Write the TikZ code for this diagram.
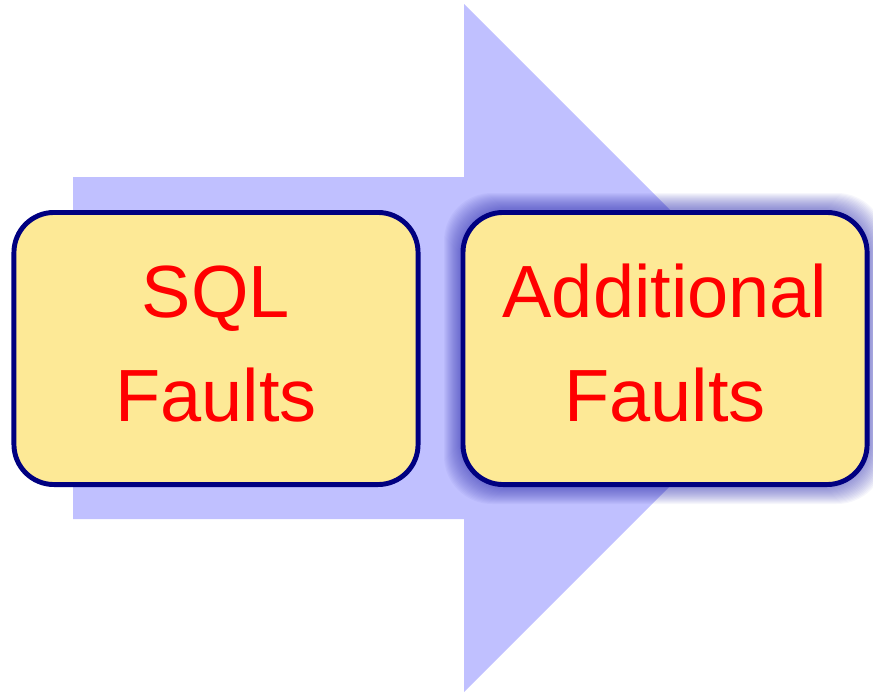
\documentclass[tikz,border=0pt]{standalone}
\usepackage{fontspec}
\setmainfont{Liberation Sans}
\usepackage{tikz}
\usetikzlibrary{positioning}
\definecolor{arrowblue}{HTML}{C0C0FF}
\definecolor{boxfill}{HTML}{FDE996}
\definecolor{boxline}{HTML}{000080}
\definecolor{glowblue}{HTML}{3030B0}
\newcommand{\bigtext}{\fontsize{52.6}{74.5}\selectfont}
\newcommand{\twolines}[2]{\raisebox{4pt}{\begin{tabular}{@{}c@{}}#1\\#2\end{tabular}}}

\tikzset{
	faultbox/.style={rectangle, rounded corners=1cm, draw=boxline, line width=3.5pt,
		fill=boxfill, minimum width=10.1cm, minimum height=6.8cm, align=center,
		text=red, font=\bigtext, inner sep=0pt},
}

\begin{document}
\begin{tikzpicture}[x=0.025cm, y=-0.025cm]
	\useasboundingbox (0,0) rectangle (873,692);

	% big arrow behind the boxes
	\fill[arrowblue] (73,177) -- (464,177) -- (464,4) -- (808,348)
		-- (464,692) -- (464,519) -- (73,519) -- cycle;

	% glow round the second box
	\foreach \g in {1,...,16}
		\fill[glowblue, opacity=0.045, rounded corners=1.2cm]
			(460-\g,209-\g) rectangle (869+\g,488+\g);

	\node[faultbox] (sql) at (216,348.5) {\twolines{SQL}{Faults}};
	\node[faultbox, right=1cm of sql] (additional) {\twolines{Additional}{Faults}};
\end{tikzpicture}
\end{document}
